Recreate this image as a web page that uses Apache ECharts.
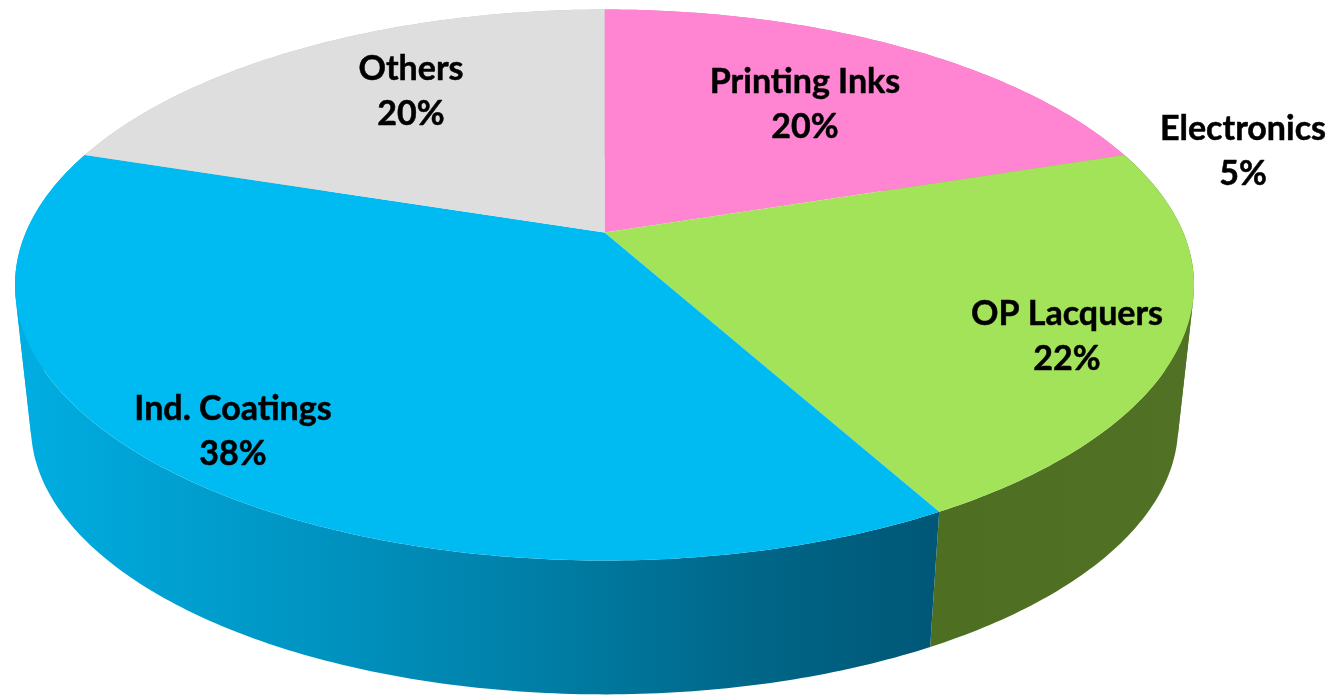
<!DOCTYPE html>
<html>
<head>
<meta charset="utf-8">
<style>html,body{margin:0;padding:0;background:#fff}#chart{width:1329px;height:695px}</style>
<script src="https://cdn.jsdelivr.net/npm/echarts@6/dist/echarts.min.js"></script>
</head>
<body>
<div id="chart"></div>
<script>
// Market shares shown as wedges, clockwise from twelve o'clock
const sliceNames = ['Printing Inks', 'OP Lacquers', 'Ind. Coatings', 'Others'];
const sliceValues = [20, 22, 38, 20];
// Share that is only called out in text, without a wedge of its own
const calloutNames = ['Electronics'];
const calloutValues = [5];

const topColors = ['#ff85d2', '#a2e35a', '#00bbf2', '#dedede'];
const wallStops = [
  [[0, '#e070b8'], [1, '#e070b8']],
  [[0, '#4e6e22'], [1, '#517224']],
  [[0, '#00aee2'], [0.3, '#0096c4'], [0.55, '#0080a8'], [0.8, '#006688'], [1, '#005776']],
  [[0, '#c0c0c0'], [1, '#c0c0c0']]
];
const labelAnchors = {
  'Printing Inks': [805, 105],
  'OP Lacquers': [1067, 337],
  'Ind. Coatings': [233, 432],
  'Others': [411, 92],
  'Electronics': [1243, 152]
};

// Perspective disc: a unit circle tilted away from the viewer
const CX = 604.5, APEX_Y = 232.5, TILT = 0.1906, DEPTH = 265.5, SPREAD = 578.7;
// The lower rim is the upper rim scaled and moved down
const RIM_SCALE = 0.973, RIM_SHIFT = 149;
const ARC_STEP = 0.002;

function rimPoint(frac) {
  const t = frac * Math.PI * 2;
  const d = 1 + TILT * Math.cos(t);
  return [CX + SPREAD * Math.sin(t) / d, APEX_Y - DEPTH * Math.cos(t) / d];
}
function lowerPoint(p) {
  return [CX + (p[0] - CX) * RIM_SCALE, p[1] * RIM_SCALE + RIM_SHIFT];
}
function arc(start, end) {
  const pts = [];
  const n = Math.ceil((end - start) / ARC_STEP);
  for (let i = 0; i <= n; i++) pts.push(rimPoint(start + (end - start) * i / n));
  return pts;
}
// Signed area of the wall quad between two neighbouring rim points
function quadSign(a, b) {
  const q = [a, b, lowerPoint(b), lowerPoint(a)];
  let area = 0;
  q.forEach((p, k) => {
    const r = q[(k + 1) % 4];
    area += p[0] * r[1] - r[0] * p[1];
  });
  return area >= 0 ? 1 : -1;
}

const total = sliceValues.reduce((a, b) => a + b, 0);
let running = 0;
const spans = sliceValues.map((v, i) => {
  const s = [running / total, (running + v) / total, i];
  running += v;
  return s;
});

// The wall folds back on itself at the sides of the disc: each stretch
// between folds becomes its own polygon so the overlap stays filled.
function renderWall(params, api) {
  const i = api.value(2);
  const upper = arc(api.value(0), api.value(1));
  const xs = upper.map(p => p[0]);
  const fill = new echarts.graphic.LinearGradient(Math.min(...xs), 0, Math.max(...xs), 0,
    wallStops[i].map(s => ({ offset: s[0], color: s[1] })), true);
  const stretches = [];
  let current = [upper[0]];
  let sign = quadSign(upper[0], upper[1]);
  for (let k = 1; k < upper.length; k++) {
    const next = k < upper.length - 1 ? quadSign(upper[k], upper[k + 1]) : sign;
    current.push(upper[k]);
    if (next !== sign) {
      stretches.push(current);
      current = [upper[k]];
      sign = next;
    }
  }
  stretches.push(current);
  return {
    type: 'group',
    children: stretches.map(run => ({
      type: 'polygon',
      shape: { points: run.concat(run.map(lowerPoint).reverse()) },
      style: { fill }
    }))
  };
}
function renderTop(params, api) {
  const i = api.value(2);
  const points = [[CX, APEX_Y]].concat(arc(api.value(0), api.value(1)));
  return { type: 'polygon', shape: { points }, style: { fill: topColors[i] } };
}
function renderLabel(params) {
  const item = labelItems[params.dataIndex];
  const at = labelAnchors[item.name];
  return {
    type: 'text',
    x: at[0], y: at[1],
    style: {
      text: item.name + '\n' + item.value + '%',
      x: 0, y: 0,
      align: 'center', verticalAlign: 'middle',
      font: 'bold 34px Lato, "Open Sans", sans-serif',
      lineHeight: 45,
      fill: '#000',
      stroke: '#000',
      lineWidth: 0.5
    }
  };
}

const labelItems = sliceNames.map((name, i) => ({ name, value: sliceValues[i] }))
  .concat(calloutNames.map((name, i) => ({ name, value: calloutValues[i] })));

const chart = echarts.init(document.getElementById('chart'), null, { renderer: 'canvas' });
chart.setOption({
  animation: false,
  backgroundColor: '#fff',
  series: [
    { type: 'custom', coordinateSystem: 'none', silent: true, z: 1, renderItem: renderWall, data: spans },
    { type: 'custom', coordinateSystem: 'none', silent: true, z: 2, renderItem: renderTop, data: spans },
    { type: 'custom', coordinateSystem: 'none', silent: true, z: 3, renderItem: renderLabel,
      data: labelItems.map(d => [d.value]) }
  ]
});
</script>
</body>
</html>
